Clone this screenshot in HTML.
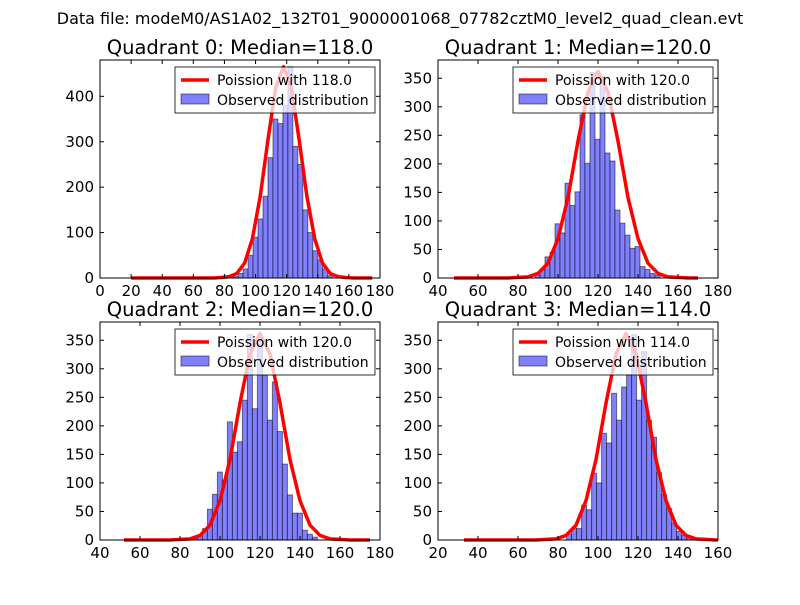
<!DOCTYPE html>
<html><head><meta charset="utf-8"><style>
body{margin:0;background:#fff;font-family:"Liberation Sans","DejaVu Sans",sans-serif}
svg text{font-family:"DejaVu Sans","Liberation Sans",sans-serif}
</style></head><body>
<svg id="c" width="800" height="600" viewBox="0 0 800 600">
<rect width="800" height="600" fill="#fff"/>
<text x="400" y="24" text-anchor="middle" font-size="16">Data file: modeM0/AS1A02_132T01_9000001068_07782cztM0_level2_quad_clean.evt</text>
</svg>
<script>
const titles=["Quadrant 0: Median=118.0","Quadrant 1: Median=120.0","Quadrant 2: Median=120.0","Quadrant 3: Median=114.0"];
const medians=[118.0,120.0,120.0,114.0];
const binStarts=[85.6,88.5,86.2,84.3];
const binWidths=[3.2,2.5,2.5,2.5];
const q0Counts=[3,10,20,50,90,130,180,265,350,340,380,465,290,250,150,100,60,40,20,5];
const q1Counts=[5,15,37,45,95,79,166,127,151,286,201,360,243,353,219,205,119,96,75,52,55,20,15,8,5];
const q2Counts=[3,8,20,54,80,119,105,207,154,172,245,360,230,350,289,210,277,190,133,79,47,47,17,10,5];
const q3Counts=[10,21,20,61,53,117,100,187,170,257,210,268,290,360,245,330,210,180,118,80,55,30,15,8,4];
const counts=[q0Counts,q1Counts,q2Counts,q3Counts];
const curveOffsets=[-45,-40,-35,-30,-25,-20,-15,-10,-5,0,5,10,15,20,25,30,35,40,45];
const q0Curve=[0,1,3,10,33,87,180,305,420,465,420,305,180,87,33,10,3,1,0];
const q1Curve=[0,1,2,8,26,69,141,240,326,362,326,240,141,69,26,8,2,1,0];
const q2Curve=[0,1,2,8,26,69,141,240,326,362,326,240,141,69,26,8,2,1,0];
const q3Curve=[0,1,2,8,26,69,141,240,326,362,326,240,141,69,26,8,2,1,0];
const curves=[q0Curve,q1Curve,q2Curve,q3Curve];
const curveStart=[20,48,52,33];
const curveEnd=[175,170,175,160];
const xLims=[[0,180],[40,180],[40,180],[20,160]];
const yLims=[[0,480],[0,382],[0,382],[0,382]];
const xTicks=[[0,20,40,60,80,100,120,140,160,180],[40,60,80,100,120,140,160,180],[40,60,80,100,120,140,160,180],[20,40,60,80,100,120,140,160]];
const yTicks=[[0,100,200,300,400],[0,50,100,150,200,250,300,350],[0,50,100,150,200,250,300,350],[0,50,100,150,200,250,300,350]];
const boxes=[[100,60],[438,60],[100,322],[438,322]];
const W=280,H=218;
const NS="http://www.w3.org/2000/svg";
const svg=document.getElementById('c');
function mk(t,a,p){const e=document.createElementNS(NS,t);for(const k in a)e.setAttribute(k,a[k]);(p||svg).appendChild(e);return e;}
for(let q=0;q<4;q++){
 const [L,T]=boxes[q];const [x0,x1]=xLims[q];const [y0,y1]=yLims[q];
 const sx=v=>L+(v-x0)/(x1-x0)*W; const sy=v=>T+H-(v-y0)/(y1-y0)*H;
 const g=mk('g',{});
 
 
 counts[q].forEach((c,i)=>{
  const a=binStarts[q]+i*binWidths[q];
  const r=mk('rect',{x:sx(a),y:sy(c),width:sx(a+binWidths[q])-sx(a),height:sy(0)-sy(c),fill:'#8080ff',stroke:'rgba(0,0,0,0.5)','stroke-width':1},g);
  
  
 });
 let pts=[[curveStart[q],0]];
 curveOffsets.forEach((o,i)=>{const x=medians[q]+o;if(x>curveStart[q]&&x<curveEnd[q])pts.push([x,curves[q][i]]);});
 pts.push([curveEnd[q],0]);
 const pl=mk('polyline',{points:pts.map(p=>sx(p[0])+','+sy(p[1])).join(' '),fill:'none',stroke:'#ff0000','stroke-width':3.5,'stroke-linejoin':'round'},g);
 
 
 mk('rect',{x:L,y:T,width:W,height:H,fill:'none',stroke:'#000','stroke-width':1},g);
 xTicks[q].forEach(v=>{const x=sx(v);
  mk('line',{x1:x,x2:x,y1:T+H,y2:T+H-4,stroke:'#000'},g);mk('line',{x1:x,x2:x,y1:T,y2:T+4,stroke:'#000'},g);
  const t=mk('text',{x:x,y:T+H+18,'text-anchor':'middle','font-size':15},g);t.textContent=String(v);
  
  });
 yTicks[q].forEach(v=>{const y=sy(v);
  mk('line',{x1:L,x2:L+4,y1:y,y2:y,stroke:'#000'},g);mk('line',{x1:L+W,x2:L+W-4,y1:y,y2:y,stroke:'#000'},g);
  const t=mk('text',{x:L-6,y:y+5,'text-anchor':'end','font-size':15},g);t.textContent=String(v);
  
  });
 const tt=mk('text',{x:L+W/2,y:T-6,'text-anchor':'middle','font-size':19.5},g);tt.textContent=titles[q];
 
 
 const lg=mk('g',{},g);
 
 
 const lx=L+W-205,ly=T+7;
 mk('rect',{x:lx,y:ly,width:200,height:46,fill:'rgba(255,255,255,0.75)',stroke:'#000','stroke-width':0.8},lg);
 mk('line',{x1:lx+6,x2:lx+34,y1:ly+13,y2:ly+13,stroke:'#f00','stroke-width':3.5},lg);
 const l1=mk('text',{x:lx+42,y:ly+18,'font-size':14},lg);l1.textContent='Poission with '+medians[q].toFixed(1);
 
 
 mk('rect',{x:lx+6,y:ly+27,width:28,height:10,fill:'#8080ff',stroke:'rgba(0,0,0,0.5)'},lg);
 const l2=mk('text',{x:lx+42,y:ly+38,'font-size':14},lg);l2.textContent='Observed distribution';
 
 
}
</script>
</body></html>
